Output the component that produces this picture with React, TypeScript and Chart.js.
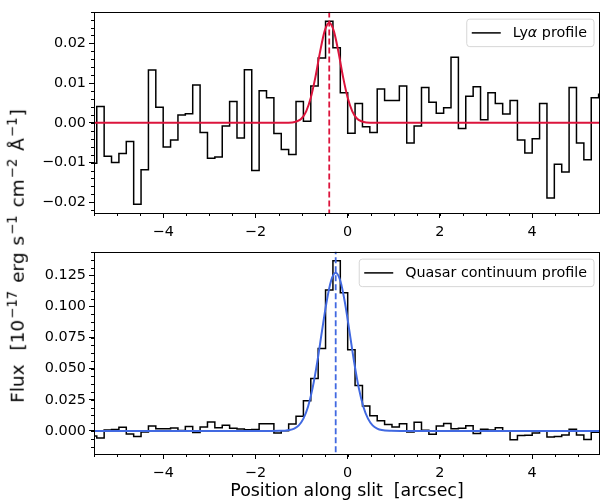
import React, { useEffect, useRef } from 'react';
import { Chart, registerables } from 'chart.js';

Chart.register(...registerables);

// ---- data ----
const binStart = -5.6; // left edge of first bin (arcsec)
const binWidth = 0.16; // arcsec per bin

const lyaFlux = [
  -0.0102, 0.0041, -0.0084, -0.0100, -0.0077, -0.0047, -0.0205, -0.0118, 0.0133, 0.0039,
  -0.0061, -0.0043, 0.0020, 0.0023, 0.0095, -0.0024, -0.0089, -0.0086, -0.0008, 0.0054,
  -0.0038, 0.0134, -0.0120, 0.0081, 0.0063, -0.0027, -0.0067, -0.0080, 0.0054, 0.0004,
  0.0093, 0.0163, 0.0256, 0.0189, 0.0076, -0.0026, 0.0049, -0.0010, -0.0024, 0.0085,
  0.0056, 0.0056, 0.0093, -0.0051, -0.0008, 0.0089, 0.0052, 0.0024, 0.0038, 0.0165,
  -0.0014, 0.0067, 0.0091, 0.0008, 0.0076, 0.0049, 0.0022, 0.0056, -0.0043, -0.0076,
  -0.0040, 0.0049, -0.0189, -0.0104, -0.0124, 0.0089, -0.0051, -0.0093, 0.0063, 0.0072,
];

const qsoFlux = [
  -0.0040, -0.0057, 0.0008, 0.0012, 0.0030, -0.0025, -0.0045, -0.0008, 0.0039, 0.0017,
  0.0017, 0.0023, 0.0004, 0.0036, -0.0013, 0.0031, 0.0072, 0.0025, 0.0045, 0.0022,
  0.0015, 0.0009, 0.0011, 0.0058, 0.0058, -0.0017, 0.0002, 0.0055, 0.0118, 0.0243,
  0.0422, 0.0662, 0.1132, 0.1367, 0.1110, 0.0653, 0.0365, 0.0201, 0.0122, 0.0083,
  0.0052, 0.0031, 0.0057, -0.0008, 0.0070, 0.0005, -0.0026, 0.0039, 0.0060, 0.0018,
  0.0022, 0.0042, -0.0021, 0.0013, 0.0008, 0.0026, -0.0003, -0.0070, -0.0037, -0.0035,
  -0.0017, 0.0001, -0.0048, -0.0044, -0.0032, 0.0013, -0.0032, -0.0068, -0.0010, 0.0002,
];

const lyaFitX = [-5.6, -1.4, -1.2, -1.1, -1.0, -0.9, -0.8, -0.7, -0.6, -0.5, -0.4, -0.3, -0.2, -0.1, 0.0, 0.1, 0.2, 0.3, 0.4, 0.6, 5.6];
const lyaFitY = [0, 0, 0.0001, 0.0004, 0.0011, 0.0029, 0.0063, 0.0115, 0.0178, 0.0231, 0.0252, 0.0231, 0.0178, 0.0115, 0.0063, 0.0029, 0.0011, 0.0004, 0.0001, 0, 0];

const qsoFitX = [-5.6, -1.66, -1.46, -1.36, -1.26, -1.16, -1.06, -0.96, -0.86, -0.76, -0.66, -0.56, -0.46, -0.36, -0.26, -0.16, -0.06, 0.04, 0.14, 0.24, 0.34, 0.44, 0.54, 0.64, 0.74, 0.94, 1.14, 5.6];
const qsoFitY = [0, 0, 0.0001, 0.0002, 0.0007, 0.0019, 0.0045, 0.0099, 0.0195, 0.0346, 0.0553, 0.0795, 0.1031, 0.1206, 0.127, 0.1206, 0.1031, 0.0795, 0.0553, 0.0346, 0.0195, 0.0099, 0.0045, 0.0019, 0.0007, 0.0001, 0, 0];

const lyaCentre = -0.40;
const qsoCentre = -0.26;

const xTicks = [-4, -2, 0, 2, 4];
const lyaYTicks = [-0.02, -0.01, 0, 0.01, 0.02];
const qsoYTicks = [0, 0.025, 0.05, 0.075, 0.1, 0.125];

const lyaLabel = 'Lyα profile';
const qsoLabel = 'Quasar continuum profile';
const xTitle = 'Position along slit  [arcsec]';

// ---- helpers ----
const FONT = '"DejaVu Sans", sans-serif';
const TICK_SIZE = 14.4;
const LEGEND_SIZE = 14.3;

const minus = (s: string) => s.replace('-', '\u2212');

function stepPoints(values: number[]) {
  return values.map((v, i) => ({ x: binStart + (i + 0.5) * binWidth, y: v }));
}
function fitPoints(xs: number[], ys: number[]) {
  return xs.map((x, i) => ({ x, y: ys[i] }));
}

const decoPlugin = {
  id: 'deco',
  afterDatasetsDraw(chart: any, _args: any, opts: any) {
    const { ctx, chartArea: a, scales } = chart;
    const xs = scales.x;
    const ys = scales.y;
    ctx.save();
    ctx.strokeStyle = '#000';
    ctx.lineWidth = 1;
    ctx.beginPath();
    const k0 = Math.ceil(xs.min / opts.xMinor - 1e-9);
    const k1 = Math.floor(xs.max / opts.xMinor + 1e-9);
    for (let k = k0; k <= k1; k++) {
      const px = Math.round(xs.getPixelForValue(k * opts.xMinor)) + 0.5;
      ctx.moveTo(px, a.bottom);
      ctx.lineTo(px, a.bottom + 3);
    }
    const j0 = Math.ceil(ys.min / opts.yMinor - 1e-9);
    const j1 = Math.floor(ys.max / opts.yMinor + 1e-9);
    for (let j = j0; j <= j1; j++) {
      const py = Math.round(ys.getPixelForValue(j * opts.yMinor)) + 0.5;
      ctx.moveTo(a.left, py);
      ctx.lineTo(a.left - 3, py);
    }
    ctx.stroke();
    ctx.strokeRect(Math.round(a.left) + 0.5, Math.round(a.top) + 0.5, Math.round(a.right - a.left) - 1, Math.round(a.bottom - a.top));
    ctx.restore();
  },
  afterDraw(chart: any) {
    const { ctx, chartArea: a } = chart;
    const label: string = chart.data.datasets[0].label;
    ctx.save();
    const normal = `${LEGEND_SIZE}px ${FONT}`;
    const italic = `italic ${LEGEND_SIZE}px ${FONT}`;
    const parts = label.split('α');
    const segs: { t: string; f: string }[] = [];
    parts.forEach((p, i) => {
      if (i > 0) segs.push({ t: 'α', f: italic });
      if (p) segs.push({ t: p, f: normal });
    });
    let tw = 0;
    segs.forEach((s) => {
      ctx.font = s.f;
      tw += ctx.measureText(s.t).width;
    });
    const h = 27.5;
    const w = 5 + 29 + 12 + tw + 7;
    const right = a.right - 6;
    const top = a.top + 7.5;
    const left = right - w;
    const r = 3;
    ctx.beginPath();
    ctx.moveTo(left + r, top);
    ctx.lineTo(left + w - r, top);
    ctx.quadraticCurveTo(left + w, top, left + w, top + r);
    ctx.lineTo(left + w, top + h - r);
    ctx.quadraticCurveTo(left + w, top + h, left + w - r, top + h);
    ctx.lineTo(left + r, top + h);
    ctx.quadraticCurveTo(left, top + h, left, top + h - r);
    ctx.lineTo(left, top + r);
    ctx.quadraticCurveTo(left, top, left + r, top);
    ctx.closePath();
    ctx.fillStyle = 'rgba(255,255,255,0.8)';
    ctx.fill();
    ctx.strokeStyle = '#d6d6d6';
    ctx.lineWidth = 1;
    ctx.stroke();
    const cy = top + h / 2;
    ctx.beginPath();
    ctx.moveTo(left + 5, cy);
    ctx.lineTo(left + 34, cy);
    ctx.strokeStyle = '#000';
    ctx.lineWidth = 1.5;
    ctx.stroke();
    ctx.fillStyle = '#000';
    ctx.textBaseline = 'middle';
    let tx = left + 46;
    segs.forEach((s) => {
      ctx.font = s.f;
      ctx.fillText(s.t, tx, cy);
      tx += ctx.measureText(s.t).width;
    });
    ctx.restore();
  },
};

function makeChart(
  canvas: HTMLCanvasElement,
  cfg: {
    label: string;
    flux: number[];
    fitX: number[];
    fitY: number[];
    centre: number;
    colour: string;
    yMin: number;
    yMax: number;
    yTicks: number[];
    yDigits: number;
    yMinor: number;
    padTop: number;
    xAxisHeight: number;
    title: string | null;
  }
) {
  return new Chart(canvas, {
    type: 'line',
    data: {
      datasets: [
        {
          label: cfg.label,
          data: stepPoints(cfg.flux),
          stepped: 'middle',
          borderColor: '#000',
          borderWidth: 1.5,
          pointRadius: 0,
          fill: false,
          order: 3,
        } as any,
        {
          label: 'fit',
          data: fitPoints(cfg.fitX, cfg.fitY),
          borderColor: cfg.colour,
          borderWidth: 2,
          pointRadius: 0,
          cubicInterpolationMode: 'monotone',
          fill: false,
          order: 2,
        },
        {
          label: 'centre',
          data: [
            { x: cfg.centre, y: -1 },
            { x: cfg.centre, y: 1 },
          ],
          borderColor: cfg.colour,
          borderWidth: 1.8,
          borderDash: [6, 3],
          pointRadius: 0,
          fill: false,
          order: 1,
        },
      ],
    },
    options: {
      responsive: false,
      animation: false,
      devicePixelRatio: 1,
      events: [],
      layout: { padding: { top: cfg.padTop, right: 1, left: 0, bottom: 0 } },
      plugins: {
        legend: { display: false },
        tooltip: { enabled: false },
        deco: { xMinor: 0.5, yMinor: cfg.yMinor },
      } as any,
      scales: {
        x: {
          type: 'linear',
          min: -5.5,
          max: 5.47,
          afterBuildTicks: (s: any) => {
            s.ticks = xTicks.map((v) => ({ value: v }));
          },
          afterFit: (s: any) => {
            s.height = cfg.xAxisHeight;
          },
          ticks: {
            autoSkip: false,
            maxRotation: 0,
            padding: 6,
            color: '#000',
            font: { family: FONT, size: TICK_SIZE },
            callback: (v: any) => minus(String(v)),
          },
          grid: { drawOnChartArea: false, drawTicks: true, tickLength: 5, color: '#000', tickColor: '#000', lineWidth: 1 },
          border: { display: false },
          title: cfg.title
            ? {
                display: true,
                text: cfg.title,
                color: '#000',
                font: { family: FONT, size: 17.4 },
                padding: { top: 0, bottom: 1 },
              }
            : { display: false },
        },
        y: {
          type: 'linear',
          min: cfg.yMin,
          max: cfg.yMax,
          afterBuildTicks: (s: any) => {
            s.ticks = cfg.yTicks.map((v) => ({ value: v }));
          },
          afterFit: (s: any) => {
            s.width = 94;
          },
          ticks: {
            autoSkip: false,
            padding: 3,
            color: '#000',
            font: { family: FONT, size: TICK_SIZE },
            callback: (v: any) => minus(Number(v).toFixed(cfg.yDigits)),
          },
          grid: { drawOnChartArea: false, drawTicks: true, tickLength: 5, color: '#000', tickColor: '#000', lineWidth: 1 },
          border: { display: false },
        },
      },
    },
    plugins: [decoPlugin],
  } as any);
}

export default function App() {
  const topRef = useRef<HTMLCanvasElement>(null);
  const botRef = useRef<HTMLCanvasElement>(null);

  useEffect(() => {
    document.body.style.margin = '0';
    const c1 = makeChart(topRef.current!, {
      label: lyaLabel,
      flux: lyaFlux,
      fitX: lyaFitX,
      fitY: lyaFitY,
      centre: lyaCentre,
      colour: '#dc143c',
      yMin: -0.0227,
      yMax: 0.028,
      yTicks: lyaYTicks,
      yDigits: 2,
      yMinor: 0.002,
      padTop: 5,
      xAxisHeight: 37,
      title: null,
    });
    const c2 = makeChart(botRef.current!, {
      label: qsoLabel,
      flux: qsoFlux,
      fitX: qsoFitX,
      fitY: qsoFitY,
      centre: qsoCentre,
      colour: '#4169e1',
      yMin: -0.0185,
      yMax: 0.144,
      yTicks: qsoYTicks,
      yDigits: 3,
      yMinor: 0.00625,
      padTop: 6,
      xAxisHeight: 49,
      title: xTitle,
    });
    return () => {
      c1.destroy();
      c2.destroy();
    };
  }, []);

  const sup: React.CSSProperties = { fontSize: '72%', verticalAlign: '0.55em', lineHeight: 0, margin: '0 1px' };

  return (
    <div style={{ position: 'relative', width: 601, height: 503, background: '#fff', overflow: 'hidden' }}>
      <canvas ref={topRef} width={601} height={250} style={{ position: 'absolute', left: 0, top: 0 }} />
      <canvas ref={botRef} width={601} height={263} style={{ position: 'absolute', left: 0, top: 240 }} />
      <div
        style={{
          position: 'absolute',
          left: 18,
          top: 256,
          transform: 'translate(-50%, -50%) rotate(-90deg)',
          whiteSpace: 'nowrap',
          fontFamily: FONT,
          fontSize: 18.5,
          color: '#000',
          lineHeight: 1,
          wordSpacing: '1px',
        }}
      >
        Flux&nbsp;&nbsp;[10<span style={sup}>−17</span> erg s<span style={sup}>−1</span> cm<span style={sup}>−2</span> Å<span style={sup}>−1</span>]
      </div>
    </div>
  );
}
